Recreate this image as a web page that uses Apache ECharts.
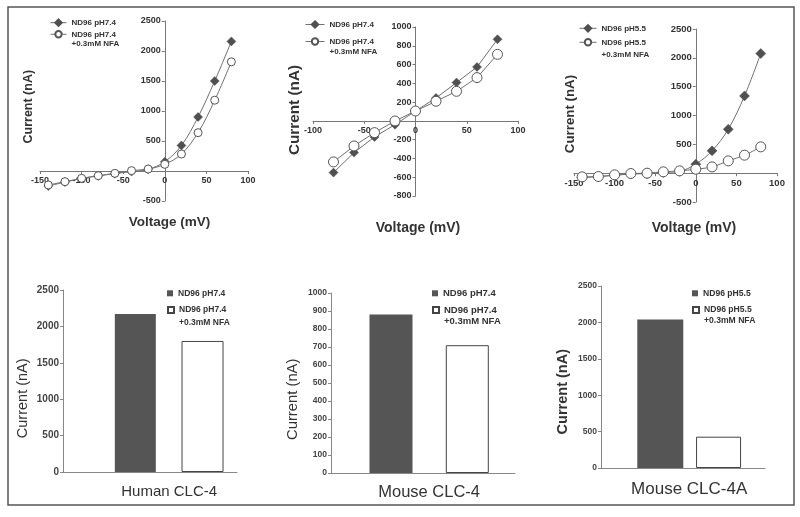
<!DOCTYPE html>
<html><head><meta charset="utf-8">
<script src="https://cdn.jsdelivr.net/npm/echarts@6/dist/echarts.min.js"></script>
<style>html,body{margin:0;padding:0;background:#fff}#c{width:800px;height:517px}</style>
</head><body><div id="c"></div>
<script>
// ---------- data ----------
const voltagesWide = [-140, -120, -100, -80, -60, -40, -20, 0, 20, 40, 60, 80];
const voltagesNarrow = [-80, -60, -40, -20, 0, 20, 40, 60, 80];

const humanControl = [-250, -185, -125, -82, -44, -10, 28, 155, 425, 900, 1500, 2160];
const humanNFA     = [-233, -178, -122, -78, -39, 6, 33, 111, 283, 639, 1180, 1820];

const mouseControl = [-551, -338, -171, -40, 105, 244, 408, 574, 869];
const mouseNFA     = [-437, -267, -125, -1, 105, 209, 315, 461, 709];

const mouseAControl = [-75, -62, -38, -15, -8, 12, 32, 156, 387, 762, 1340, 2074];
const mouseANFA     = [-64, -58, -29, -6, 0, 23, 40, 69, 109, 213, 312, 456];

const groupNames = ['Human CLC-4', 'Mouse CLC-4', 'Mouse CLC-4A'];
const humanBars  = [2170, 1800];
const mouseBars  = [880, 710];
const mouseABars = [2040, 430];

const legendCtrl74 = 'ND96 pH7.4';
const legendNFA74  = 'ND96 pH7.4\n+0.3mM NFA';
const legendCtrl55 = 'ND96 pH5.5';
const legendNFA55  = 'ND96 pH5.5\n+0.3mM NFA';

// ---------- helpers ----------
const FF = '"Liberation Sans", Arial, Helvetica, sans-serif';
const AX = '#777';

const grids = [
  { left: 40, top: 21, width: 208, height: 180 },
  { left: 313, top: 27, width: 205, height: 169 },
  { left: 574, top: 29, width: 203, height: 173 },
  { left: 63, top: 290, width: 174, height: 182 },
  { left: 331, top: 293, width: 184, height: 180 },
  { left: 601, top: 286, width: 164, height: 182 }
];

function pairs(xs, ys) { return xs.map((x, i) => [x, ys[i]]); }

// I-V panels: axes cross at zero (axes shifted with offset so labels follow the line)
function topAxes(i, xr, yr, fs) {
  const g = grids[i];
  const xZeroFromLeft = g.width * (0 - xr[0]) / (xr[1] - xr[0]);
  const yZeroFromBottom = g.height * (0 - yr[0]) / (yr[1] - yr[0]);
  const common = {
    axisTick: { show: true, length: 3, lineStyle: { color: AX } },
    splitLine: { show: false }
  };
  const x = Object.assign({ gridIndex: i, type: 'value', min: xr[0], max: xr[1], interval: xr[2],
    position: 'bottom', offset: -yZeroFromBottom,
    axisLine: { show: true, onZero: false, lineStyle: { color: AX, width: 1 } },
    axisLabel: { fontSize: fs, fontWeight: 'bold', color: '#333', margin: 5, fontFamily: FF,
      formatter: v => String(v) } }, common);
  const y = Object.assign({ gridIndex: i, type: 'value', min: yr[0], max: yr[1], interval: yr[2],
    position: 'left', offset: -xZeroFromLeft,
    axisLine: { show: true, onZero: false, lineStyle: { color: AX, width: 1 } },
    axisLabel: { fontSize: fs, fontWeight: 'bold', color: '#333', margin: 4, fontFamily: FF,
      formatter: v => (v === 0 ? '' : String(v)) } }, common);
  return [x, y];
}
function barX(i, k, min, max, fs, margin) {
  return { gridIndex: i, type: 'value', min, max,
    axisLine: { show: true, onZero: false, lineStyle: { color: '#888', width: 1 } },
    axisTick: { show: false },
    splitLine: { show: false },
    axisLabel: { customValues: [1.5], formatter: () => groupNames[k], fontSize: fs, color: '#333',
      margin, fontFamily: FF } };
}
function barY(i, max, interval, fs) {
  return { gridIndex: i, type: 'value', min: 0, max, interval,
    axisLine: { show: true, onZero: false, lineStyle: { color: '#888', width: 1 } },
    axisTick: { show: true, length: 3, lineStyle: { color: '#888' } },
    splitLine: { show: false },
    axisLabel: { fontSize: fs, fontWeight: 'bold', color: '#444', margin: 4, fontFamily: FF,
      formatter: v => String(v) } };
}

function lineSeries(name, idx, xs, ys, filled, size, smooth) {
  return { name, type: 'line', xAxisIndex: idx, yAxisIndex: idx, data: pairs(xs, ys),
    symbol: filled ? 'diamond' : 'circle', symbolSize: size, smooth,
    lineStyle: { color: '#707070', width: 1 },
    itemStyle: filled ? { color: '#505050', borderColor: '#505050', borderWidth: 0.5 }
                      : { color: '#ffffff', borderColor: '#555', borderWidth: 1 },
    emphasis: { disabled: true }, animation: false };
}
function barSeries(name, idx, pos, value, filled, width) {
  return { name, type: 'bar', xAxisIndex: idx, yAxisIndex: idx, data: [[pos, value]],
    barWidth: width, barGap: '-100%',
    itemStyle: filled ? { color: '#555555', borderColor: '#555555', borderWidth: 0 }
                      : { color: '#ffffff', borderColor: '#444', borderWidth: 1 },
    emphasis: { disabled: true }, animation: false };
}

// legend with one item; cy = centre of its first text line.
// For two-line labels a leading empty line keeps the icon level with the first line.
function legendItem(seriesName, text, left, cy, fs, lh, iw, ih, icon) {
  const two = text.indexOf('\n') >= 0;
  const top = two ? cy - 1.5 * lh : cy - Math.max(lh, ih) / 2;
  const shown = two ? '\n' + text : text;
  const lg = { data: [seriesName], left, top, orient: 'vertical', padding: 0,
    itemWidth: iw, itemHeight: ih, selectedMode: false, formatter: () => shown,
    lineStyle: { width: 1 },
    textStyle: { fontSize: fs, fontWeight: 'bold', color: '#333', fontFamily: FF, lineHeight: lh } };
  if (icon) lg.icon = icon;
  return lg;
}

function hText(text, x, y, fs, weight) {
  return { type: 'text', x, y, silent: true,
    style: { text, fontSize: fs, fontWeight: weight, fontFamily: FF, fill: '#333',
      align: 'center', verticalAlign: 'middle' } };
}
function vText(text, x, y, fs, weight) {
  return { type: 'text', x, y, rotation: Math.PI / 2, silent: true,
    style: { text, fontSize: fs, fontWeight: weight, fontFamily: FF, fill: '#333',
      align: 'center', verticalAlign: 'middle' } };
}

// ---------- names ----------
const S = {
  hC: 'Human ND96 pH7.4', hN: 'Human ND96 pH7.4 +0.3mM NFA',
  mC: 'Mouse ND96 pH7.4', mN: 'Mouse ND96 pH7.4 +0.3mM NFA',
  aC: 'Mouse4A ND96 pH5.5', aN: 'Mouse4A ND96 pH5.5 +0.3mM NFA',
  hbC: 'Human bar ND96 pH7.4', hbN: 'Human bar ND96 pH7.4 +0.3mM NFA',
  mbC: 'Mouse bar ND96 pH7.4', mbN: 'Mouse bar ND96 pH7.4 +0.3mM NFA',
  abC: 'Mouse4A bar ND96 pH5.5', abN: 'Mouse4A bar ND96 pH5.5 +0.3mM NFA'
};

const a0 = topAxes(0, [-150, 100, 50], [-500, 2500, 500], 9);
const a1 = topAxes(1, [-100, 100, 50], [-800, 1000, 200], 9);
const a2 = topAxes(2, [-150, 100, 50], [-500, 2500, 500], 9.5);

const option = {
  animation: false,
  backgroundColor: '#ffffff',
  textStyle: { fontFamily: FF },
  grid: grids,
  xAxis: [
    a0[0], a1[0], a2[0],
    barX(3, 0, -0.092, 2.517, 15, 12),
    barX(4, 1, 0.214, 2.625, 16.5, 11),
    barX(5, 2, 0, 2.79, 17, 13)
  ],
  yAxis: [
    a0[1], a1[1], a2[1],
    barY(3, 2500, 500, 10),
    barY(4, 1000, 100, 8.5),
    barY(5, 2500, 500, 8.5)
  ],
  legend: [
    legendItem(S.hC, legendCtrl74, 50, 22.7, 8, 9, 16, 8),
    legendItem(S.hN, legendNFA74, 50, 34.3, 8, 9, 16, 8),
    legendItem(S.mC, legendCtrl74, 305, 24.5, 8, 10, 19, 8),
    legendItem(S.mN, legendNFA74, 305, 41.5, 8, 10, 19, 8),
    legendItem(S.aC, legendCtrl55, 579, 28.3, 8, 12, 17, 8),
    legendItem(S.aN, legendNFA55, 579, 42.3, 8, 12, 17, 8),
    legendItem(S.hbC, legendCtrl74, 167, 293.3, 8.5, 12, 6, 6, 'rect'),
    legendItem(S.hbN, legendNFA74, 167, 310, 8.5, 12.5, 6, 6, 'rect'),
    legendItem(S.mbC, legendCtrl74, 432, 293.3, 9.5, 11, 6, 6, 'rect'),
    legendItem(S.mbN, legendNFA74, 432, 310, 9.5, 11, 6, 6, 'rect'),
    legendItem(S.abC, legendCtrl55, 692, 293.3, 8.6, 11, 6, 6, 'rect'),
    legendItem(S.abN, legendNFA55, 692, 310, 8.6, 11, 6, 6, 'rect')
  ],
  series: [
    lineSeries(S.hC, 0, voltagesWide, humanControl, true, 9, 0.35),
    lineSeries(S.hN, 0, voltagesWide, humanNFA, false, 8, 0.35),
    lineSeries(S.mC, 1, voltagesNarrow, mouseControl, true, 9, false),
    lineSeries(S.mN, 1, voltagesNarrow, mouseNFA, false, 10, false),
    lineSeries(S.aC, 2, voltagesWide, mouseAControl, true, 10, 0.35),
    lineSeries(S.aN, 2, voltagesWide, mouseANFA, false, 10, 0.35),
    barSeries(S.hbC, 3, 1, humanBars[0], true, 41),
    barSeries(S.hbN, 3, 2, humanBars[1], false, 42),
    barSeries(S.mbC, 4, 1, mouseBars[0], true, 43),
    barSeries(S.mbN, 4, 2, mouseBars[1], false, 43),
    barSeries(S.abC, 5, 1, mouseABars[0], true, 46),
    barSeries(S.abN, 5, 2, mouseABars[1], false, 45)
  ],
  graphic: [
    { type: 'rect', silent: true, shape: { x: 8, y: 7, width: 786, height: 498 },
      style: { fill: 'none', stroke: '#555', lineWidth: 1.5 } },
    hText('Voltage (mV)', 169.5, 222.7, 13.5, 'bold'),
    hText('Voltage (mV)', 418, 227.7, 14, 'bold'),
    hText('Voltage (mV)', 694, 228.3, 14, 'bold'),
    vText('Current (nA)', 28.3, 106.7, 12.5, 'bold'),
    vText('Current (nA)', 295, 110, 15.3, 'bold'),
    vText('Current (nA)', 570, 114, 13.3, 'bold'),
    vText('Current (nA)', 23.3, 398.3, 14.5, 'normal'),
    vText('Current (nA)', 292.7, 399.3, 14.8, 'normal'),
    vText('Current (nA)', 563.3, 391.7, 14.5, 'bold')
  ]
};

const chart = echarts.init(document.getElementById('c'), null, { renderer: 'canvas' });
chart.setOption(option);
</script>
</body></html>
